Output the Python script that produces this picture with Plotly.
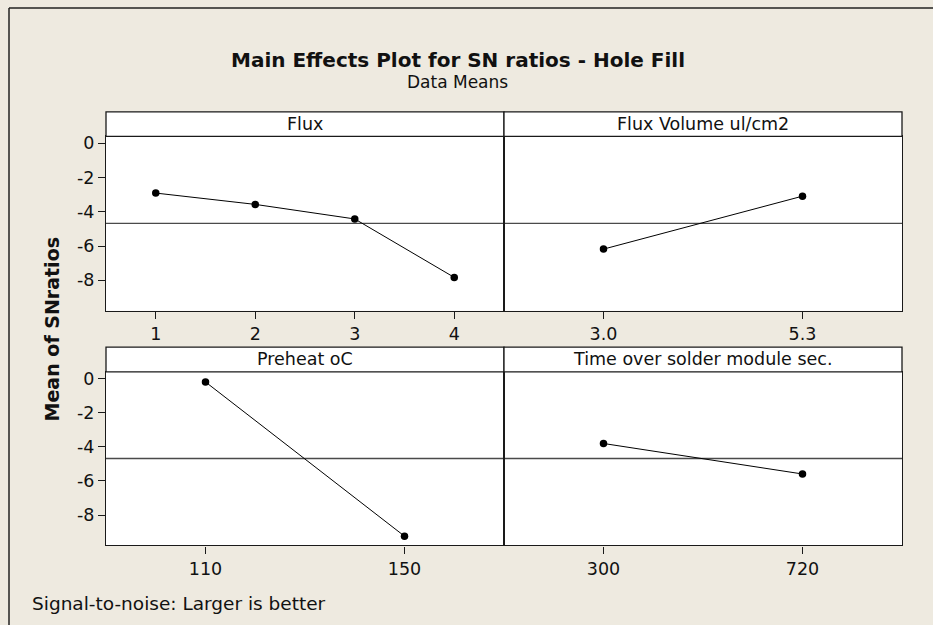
import plotly.graph_objects as go

# ---------------- data ----------------
flux_levels = ["1", "2", "3", "4"]
flux_sn = [-2.91, -3.57, -4.42, -7.83]

volume_levels = ["3.0", "5.3"]
volume_sn = [-6.18, -3.09]

preheat_levels = ["110", "150"]
preheat_sn = [-0.19, -9.24]

time_levels = ["300", "720"]
time_sn = [-3.80, -5.59]

overall_mean = -4.68

panel_titles = ["Flux", "Flux Volume ul/cm2", "Preheat oC", "Time over solder module sec."]
y_tickvals = [0, -2, -4, -6, -8]
y_ticktext = ["0", "-2", "-4", "-6", "-8"]

# ---------------- layout helpers ----------------
W, H = 933, 625
FONT = "DejaVu Sans"
BG = "#EEEAE0"
INK = "#111111"

def px_x(x):
    return x / W

def px_y(y):
    return 1 - y / H

cols = [(106, 504), (504, 902)]
rows = [(134, 309.3), (370.7, 545)]
strips = [(109.5, 134), (345.7, 370.7)]
y_range = [-9.78, 0.40]

panels = [
    (flux_levels, flux_sn, 0, 0),
    (volume_levels, volume_sn, 0, 1),
    (preheat_levels, preheat_sn, 1, 0),
    (time_levels, time_sn, 1, 1),
]

fig = go.Figure()
layout = dict(
    width=W, height=H,
    margin=dict(l=0, r=0, t=0, b=0),
    paper_bgcolor=BG, plot_bgcolor="white",
    showlegend=False,
    font=dict(family=FONT, size=17, color=INK),
)
shapes = []
annotations = []

for i, (levels, vals, r, c) in enumerate(panels):
    n = i + 1
    xa = "x" if n == 1 else f"x{n}"
    ya = "y" if n == 1 else f"y{n}"
    xkey = "xaxis" if n == 1 else f"xaxis{n}"
    ykey = "yaxis" if n == 1 else f"yaxis{n}"
    x0, x1 = cols[c]
    y0, y1 = rows[r]
    layout[xkey] = dict(
        domain=[px_x(x0), px_x(x1)], anchor=ya, type="category",
        categoryorder="array", categoryarray=levels,
        range=[-0.5, len(levels) - 0.5],
        showline=True, mirror=True, linecolor="#1a1a1a", linewidth=1.3,
        ticks="outside", ticklen=7, tickwidth=1, tickcolor="#1a1a1a",
        showgrid=False, zeroline=False,
        tickfont=dict(family=FONT, size=17.5, color=INK),
    )
    layout[ykey] = dict(
        domain=[px_y(y1), px_y(y0)], anchor=xa, range=y_range,
        showline=True, mirror=True, linecolor="#1a1a1a", linewidth=1.3,
        showgrid=False, zeroline=False,
        tickvals=y_tickvals, ticktext=y_ticktext,
        ticks="outside" if c == 0 else "", ticklen=7, tickwidth=1, tickcolor="#1a1a1a",
        showticklabels=(c == 0),
        tickfont=dict(family=FONT, size=17.5, color=INK),
    )
    fig.add_trace(go.Scatter(
        x=levels, y=vals, xaxis=xa, yaxis=ya, mode="lines+markers",
        line=dict(color="black", width=1),
        marker=dict(color="black", size=7.5),
        hoverinfo="skip",
    ))
    # overall mean reference line
    shapes.append(dict(
        type="line", xref=f"{xa} domain", yref=ya, x0=0, x1=1,
        y0=overall_mean, y1=overall_mean,
        line=dict(color="#4a4a4a", width=1.3), layer="below",
    ))
    # header strip
    s0, s1 = strips[r]
    shapes.append(dict(
        type="rect", xref="paper", yref="paper",
        x0=px_x(x0), x1=px_x(x1), y0=px_y(s1), y1=px_y(s0),
        fillcolor="white", line=dict(color="#1a1a1a", width=1.3), layer="above",
    ))
    annotations.append(dict(
        text=panel_titles[i], xref="paper", yref="paper",
        x=px_x((x0 + x1) / 2), y=px_y((s0 + s1) / 2),
        xanchor="center", yanchor="middle", showarrow=False,
        font=dict(family=FONT, size=17.5, color=INK),
    ))

# outer frame (top and left edges visible)
shapes.append(dict(type="line", xref="paper", yref="paper",
                   x0=px_x(9), x1=1.01, y0=px_y(5), y1=px_y(5),
                   line=dict(color="#222222", width=1.5)))
shapes.append(dict(type="line", xref="paper", yref="paper",
                   x0=px_x(9), x1=px_x(9), y0=px_y(5), y1=-0.01,
                   line=dict(color="#222222", width=1.5)))

annotations += [
    dict(text="<b>Main Effects Plot for SN ratios - Hole Fill</b>", xref="paper", yref="paper",
         x=px_x(457.5), y=px_y(57), xanchor="center", yanchor="middle", showarrow=False,
         font=dict(family=FONT, size=20, color=INK)),
    dict(text="Data Means", xref="paper", yref="paper",
         x=px_x(457.5), y=px_y(79), xanchor="center", yanchor="middle", showarrow=False,
         font=dict(family=FONT, size=17, color=INK)),
    dict(text="<b>Mean of SNratios</b>", xref="paper", yref="paper",
         x=px_x(52), y=px_y(328), xanchor="center", yanchor="middle", showarrow=False,
         textangle=-90, font=dict(family=FONT, size=19, color=INK)),
    dict(text="Signal-to-noise: Larger is better", xref="paper", yref="paper",
         x=px_x(30), y=px_y(603), xanchor="left", yanchor="middle", showarrow=False,
         font=dict(family=FONT, size=18.5, color=INK)),
]

layout["shapes"] = shapes
layout["annotations"] = annotations
fig.update_layout(**layout)
fig.write_html(
    "out.html",
    config={"displayModeBar": False},
    post_script="document.body.style.margin='0';document.body.style.overflow='hidden';",
)
